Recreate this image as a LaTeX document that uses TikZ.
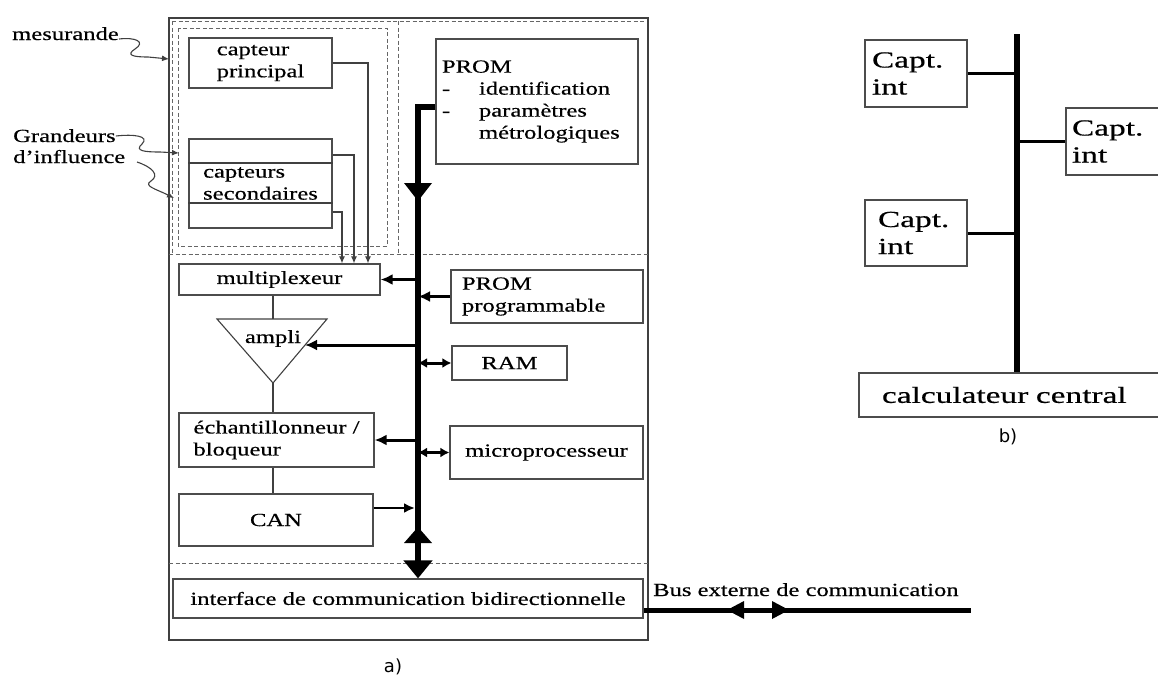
\documentclass[tikz,border=0pt]{standalone}
\usepackage{fontspec}
\setmainfont{Liberation Serif}[FakeStretch=1.33,FakeBold=0.5]
\newfontfamily\captfont{Liberation Serif}[FakeStretch=1.45,FakeBold=0.5]
\newfontfamily\labfont{DejaVu Sans}
\usetikzlibrary{arrows.meta,calc}
\begin{document}
\begin{tikzpicture}[x=1pt,y=-1pt,
  box/.style={draw=black!70, line width=1.2pt, inner sep=0pt},
  txt/.style={font=\fontsize{18.5}{22}\selectfont, align=left, inner sep=0pt},
  btxt/.style={font=\captfont\fontsize{23}{27}\selectfont, align=left, inner sep=0pt},
  lab/.style={font=\labfont\fontsize{18}{20}\selectfont, inner sep=0pt},
  thin/.style={draw=black!75, line width=1.1pt},
  dsh/.style={draw=black!60, dash pattern=on 4pt off 2.5pt, line width=1pt},
  tarr/.style={thin, -{Latex[length=7pt,width=6pt]}},
  sig/.style={line width=3pt, -{Latex[length=12pt,width=11pt]}},
  dsig/.style={line width=3pt, {Latex[length=9pt,width=10pt]}-{Latex[length=9pt,width=10pt]}},
  busln/.style={line width=6pt, line join=miter, -{Triangle[length=18pt,width=28pt]}},
  ebus/.style={line width=5pt},
  bbus/.style={line width=6pt},
  br/.style={line width=3pt}
]
\useasboundingbox (0,0) rectangle (1158,675);
\clip (0,0) rectangle (1158,675);

% frame and dashed regions
\draw[thin] (169,18) rectangle (648,640);
\draw[dsh] (172,21) -- (646,21);
\draw[dsh] (172,21) -- (172,254);
\draw[dsh] (169,254) -- (648,254);
\draw[dsh] (398,21) -- (398,254);
\draw[dsh] (178,28) rectangle (387,246);
\draw[dsh] (169,563) -- (648,563);

% left inputs
\node[txt, anchor=base west] (mes) at (12,40) {mesurande};
\node[txt, anchor=base west] (gr) at (13,142) {Grandeurs};
\node[txt, anchor=base west] (inf) at (13,163) {d'influence};
\coordinate (m1) at (169,59);
\coordinate (g1) at (179,153);
\coordinate (g2s) at (137,162);
\coordinate (g2) at (174,198);
\draw[tarr] ([yshift=1pt]mes.base east) .. controls (136,37) and (146,42) .. (135,49)
   .. controls (126,55) and (132,57) .. (148,57) -- (m1);
\draw[tarr] ([yshift=6pt]gr.base east) .. controls (134,134) and (150,136) .. (142,144)
   .. controls (134,151) and (145,152) .. (160,152) -- (g1);
\draw[tarr] (g2s) .. controls (152,167) and (160,175) .. (151,181)
   .. controls (143,186) and (156,189) .. (g2);

% sensors
\node[box, minimum width=143pt, minimum height=50pt, txt] (cp) at (260.5,63) {capteur\\principal};
\node[box, minimum width=143pt, minimum height=89pt, txt] (cs) at (260.5,183.5) {capteurs\\secondaires};
\coordinate (s1) at (0,163);
\coordinate (s2) at (0,203);
\draw[thin] (cs.west |- s1) -- (cs.east |- s1);
\draw[thin] (cs.west |- s2) -- (cs.east |- s2);

% multiplexer chain
\node[box, minimum width=201pt, minimum height=31pt, txt] (mux) at (279.5,279.5) {multiplexeur};
\coordinate (w1) at (368,0);
\coordinate (w2) at (354,155);
\coordinate (w3) at (342,212);
\draw[tarr] (cp.east) -| (w1 |- mux.north);
\draw[tarr] (cs.east |- w2) -| (w2 |- mux.north);
\draw[tarr] (cs.east |- w3) -| (w3 |- mux.north);

\coordinate (aL) at (217,319);
\coordinate (aR) at (327,319);
\coordinate (aB) at (273,383);
\coordinate (atip) at (305,345);
\draw[thin] (aL) -- (aR) -- (aB) -- cycle;
\node[txt, anchor=base] (ampli) at (273,343) {ampli};
\draw[thin] (mux.south -| aB) -- (aB |- aL);

\node[box, minimum width=195pt, minimum height=54pt, txt] (ech) at (276.5,440) {échantillonneur /\\bloqueur};
\draw[thin] (aB) -- (ech.north -| aB);
\node[box, minimum width=194pt, minimum height=52pt, txt] (can) at (276,520) {CAN};
\draw[thin] (ech.south -| aB) -- (can.north -| aB);

\node[box, minimum width=470pt, minimum height=39pt, txt] (intf) at (408,598.5) {interface de communication bidirectionnelle};

% right column
\node[box, minimum width=202pt, minimum height=125pt, txt, text width=190pt] (prom) at (537,101.5)
  {PROM\\\makebox[37pt][l]{-}identification\\\makebox[37pt][l]{-}paramètres\\\hspace*{37pt}métrologiques};
\node[box, minimum width=192pt, minimum height=53pt, txt, text width=170pt] (pp) at (547,296.5) {PROM\\programmable};
\node[box, minimum width=115pt, minimum height=34pt, txt] (ram) at (509.5,363) {RAM};
\node[box, minimum width=193pt, minimum height=53pt, txt] (mic) at (546.5,452.5) {microprocesseur};

% internal bus
\coordinate (b0) at (418,107);
\draw[busln] ([yshift=-5.5pt]prom.west) -| (intf.north -| b0);
\fill (404,183) -- (432,183) -- (418,201) -- cycle;
\fill (404,543) -- (432,543) -- (418,527) -- cycle;

\draw[sig] (b0 |- mux.east) -- (mux.east);
\draw[sig] (pp.west) -- (b0 |- pp.west);
\draw[sig] (b0 |- atip) -- (atip);
\draw[dsig] (b0 |- ram.west) -- (ram.west);
\draw[sig] (b0 |- ech.east) -- (ech.east);
\draw[dsig] (b0 |- mic.west) -- (mic.west);
\coordinate (cO) at ([yshift=12pt]can.east);
\draw[line width=2.5pt, -{Latex[length=11pt,width=10pt]}] (cO) -- ([xshift=-3pt]cO -| b0);

% external bus
\coordinate (ext) at (971,610);
\draw[ebus] (intf.east |- ext) -- (ext);
\fill (744,601) -- (744,619) -- (727,610) -- cycle;
\fill (772,601) -- (772,619) -- (789,610) -- cycle;
\node[txt, anchor=base west] (bext) at (653,596) {Bus externe de communication};

\node[lab] (la) at (393,667) {a)};

% part b
\node[box, minimum width=102pt, minimum height=67pt, btxt, text width=88pt] (c1) at (916,73.5) {Capt.\\int};
\node[box, minimum width=104pt, minimum height=67pt, btxt, text width=92pt] (c2) at (1118,141.5) {Capt.\\int};
\node[box, minimum width=102pt, minimum height=66pt, btxt, text width=76pt] (c3) at (916,233) {Capt.\\int};
\node[box, minimum width=311pt, minimum height=44pt, btxt, text width=265pt] (calc) at (1014.5,395) {calculateur central};
\coordinate (bt) at (1017,34);
\draw[bbus] (bt) -- (calc.north -| bt);
\draw[br] (c1.east) -- (c1.east -| bt);
\draw[br] (c2.west) -- (c2.west -| bt);
\draw[br] (c3.east) -- (c3.east -| bt);
\node[lab] (lb) at (1008,437) {b)};
\end{tikzpicture}
\end{document}
